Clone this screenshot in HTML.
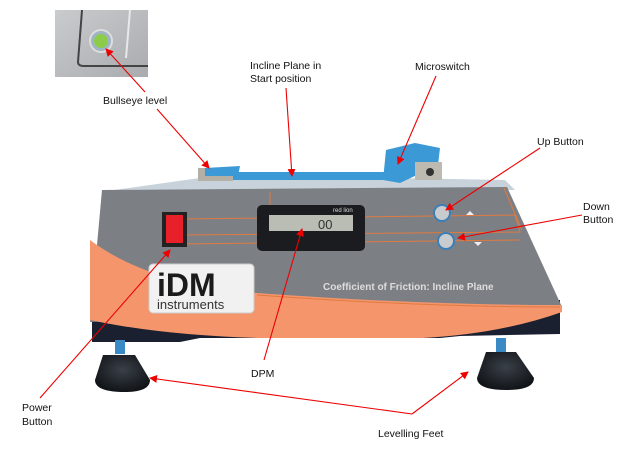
<!DOCTYPE html>
<html><head><meta charset="utf-8"><style>
html,body{margin:0;padding:0;background:#fff;width:637px;height:458px;overflow:hidden}
svg{display:block}
text{font-family:"Liberation Sans",sans-serif;font-size:10.5px;fill:#111}
</style></head><body>
<svg width="637" height="458" viewBox="0 0 637 458" xmlns="http://www.w3.org/2000/svg">
<defs>
<marker id="ah" markerWidth="8" markerHeight="8" refX="7" refY="4" orient="auto" markerUnits="userSpaceOnUse">
<path d="M0,0 L8,4 L0,8 z" fill="#e00"/></marker>
<linearGradient id="inset" x1="0" y1="0" x2="1" y2="1"><stop offset="0" stop-color="#c9cbcd"/><stop offset="1" stop-color="#a9abae"/></linearGradient>
<radialGradient id="foot" cx="0.5" cy="0.4" r="0.6"><stop offset="0" stop-color="#3a4048"/><stop offset="1" stop-color="#111418"/></radialGradient>
</defs>
<!-- inset photo -->
<rect x="55" y="10" width="93" height="67" fill="url(#inset)"/>
<path d="M82,10 L78,62 Q78,66 84,66 L148,66" fill="none" stroke="#444" stroke-width="2"/>
<path d="M130,10 L126,58" stroke="#e8e8e8" stroke-width="2"/>
<circle cx="101" cy="41" r="11" fill="#9fb4c4" stroke="#ddd" stroke-width="2"/>
<circle cx="101" cy="41" r="7" fill="#8ccc4a"/>
<!-- base dark -->
<path d="M92,300 L92,342 L180,342 L200,338 L440,338 L460,336 L560,334 L560,300 z" fill="#1a2030"/>
<!-- top surface -->
<path d="M100,192 L200,178 L395,178 L505,180 L515,190 z" fill="#c8d2da"/>
<rect x="200" y="172" width="190" height="8" fill="#3b9ad6"/>
<!-- left slider -->
<rect x="198" y="168" width="35" height="13" fill="#b4b0a6"/>
<path d="M205,168 L240,166 L238,176 L205,176 z" fill="#3b9ad6"/>
<!-- microswitch -->
<path d="M383,180 L386,150 L415,143 L440,148 L438,165 L400,183 z" fill="#3b9ad6"/>
<rect x="415" y="162" width="27" height="18" fill="#bdbab2"/>
<circle cx="430" cy="172" r="4" fill="#333"/>
<!-- front panel gray -->
<path d="M102,190 L507,187 L562,307 L90,322 z" fill="#7c7f84"/>
<!-- orange region -->
<path d="M90,240 Q150,285 257,293 Q420,305 562,305 L562,312 Q500,334 423,338 L257,338 Q160,335 90,320 z" fill="#f4956c"/>
<path d="M257,295 Q420,307 560,307" fill="none" stroke="#e07a40" stroke-width="1"/>
<!-- orange lines -->
<path d="M180,219 L515,215 L520,232 L180,235" fill="none" stroke="#e07a40" stroke-width="1"/>
<path d="M180,244 L520,240" fill="none" stroke="#e07a40" stroke-width="1"/>
<path d="M270,192 L270,215 M504,188 L522,230" fill="none" stroke="#e07a40" stroke-width="1"/>
<!-- red switch -->
<rect x="162" y="212" width="25" height="35" fill="#222"/>
<rect x="166" y="215" width="17" height="28" fill="#e8202a"/>
<!-- display -->
<rect x="257" y="205" width="108" height="46" rx="5" fill="#1a1c1f"/>
<rect x="269" y="215" width="84" height="16" fill="#b9bdb4"/>
<text x="318" y="229" style="font-size:13px;fill:#333">00</text>
<text x="333" y="212" style="font-size:6px;fill:#ddd">red lion</text>
<!-- buttons -->
<circle cx="442" cy="213" r="8" fill="#c9cccf" stroke="#3a7fb8" stroke-width="2"/>
<circle cx="446" cy="241" r="8" fill="#c9cccf" stroke="#3a7fb8" stroke-width="2"/>
<path d="M466,215 l4,-4 l4,4 z M474,242 l4,4 l4,-4 z" fill="#eee"/>
<!-- logo -->
<rect x="149" y="264" width="105" height="49" rx="4" fill="#f1f1f1" stroke="#ccc"/>
<text x="157" y="296" style="font-size:32px;font-weight:bold;fill:#1b1b1b">iDM</text>
<text x="157" y="309" style="font-size:13px;fill:#333">instruments</text>
<text x="323" y="290" style="font-size:10px;font-weight:bold;fill:#ddd">Coefficient of Friction: Incline Plane</text>
<!-- feet -->
<rect x="115" y="340" width="10" height="14" fill="#3a8ac6"/>
<path d="M103,355 L135,355 L150,380 Q150,392 125,392 Q95,392 95,380 z" fill="url(#foot)"/>
<rect x="496" y="338" width="10" height="14" fill="#3a8ac6"/>
<path d="M486,352 L516,352 L534,378 Q534,390 507,390 Q477,390 477,378 z" fill="url(#foot)"/>
<!-- arrows -->
<g stroke="#e00" stroke-width="1.1" fill="none" marker-end="url(#ah)">
<line x1="145" y1="92" x2="106" y2="49"/>
<line x1="157" y1="109" x2="209" y2="168"/>
<line x1="286" y1="88" x2="292" y2="176"/>
<line x1="436" y1="76" x2="398" y2="164"/>
<line x1="540" y1="148" x2="446" y2="210"/>
<line x1="582" y1="215" x2="458" y2="238"/>
<line x1="264" y1="360" x2="302" y2="229"/>
<line x1="40" y1="398" x2="170" y2="250"/>
<polyline points="412,414 150,378"/>
<polyline points="412,414 468,372"/>
</g>
<!-- labels -->
<text x="103" y="104">Bullseye level</text>
<text x="250" y="69">Incline Plane in</text>
<text x="250" y="82">Start position</text>
<text x="415" y="70">Microswitch</text>
<text x="537" y="145">Up Button</text>
<text x="583" y="210">Down</text>
<text x="583" y="223">Button</text>
<text x="251" y="377">DPM</text>
<text x="22" y="411">Power</text>
<text x="22" y="425">Button</text>
<text x="378" y="437">Levelling Feet</text>
</svg>
</body></html>
